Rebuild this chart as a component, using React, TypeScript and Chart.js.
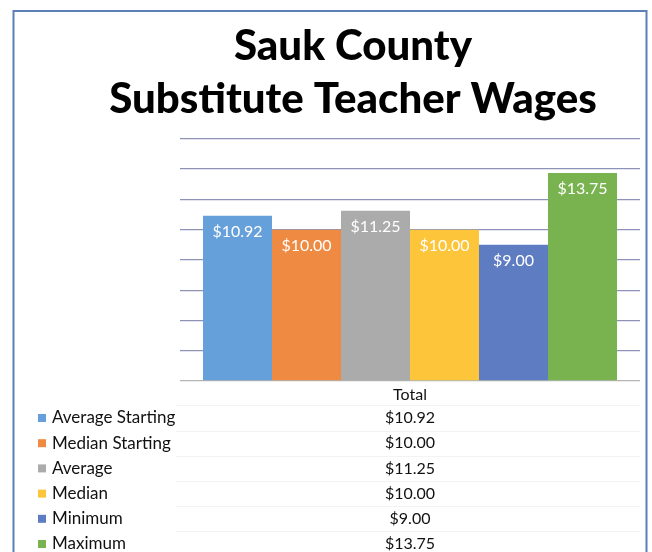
import React, { useEffect, useRef } from "react";
import { Chart, registerables } from "chart.js";

Chart.register(...registerables);

const titleLines = ["Sauk County", "Substitute Teacher Wages"];
const categories = ["Total"];
const seriesNames = ["Average Starting", "Median Starting", "Average", "Median", "Minimum", "Maximum"];
const seriesValues = [10.92, 10.0, 11.25, 10.0, 9.0, 13.75];
const seriesColors = ["#66a0da", "#ee8a42", "#ababab", "#fcc53a", "#5d7cc2", "#78b34f"];
const yMin = 0;
const yMax = 16;
const yStep = 2;

const FONT = "Lato, 'Open Sans', sans-serif";
const fmt = (v: number) => "$" + v.toFixed(2);

const framePlugin = {
  id: "frame",
  beforeDraw(chart: any) {
    const ctx = chart.ctx;
    ctx.save();
    ctx.fillStyle = "#ffffff";
    ctx.fillRect(0, 0, chart.width, chart.height);
    ctx.strokeStyle = "#5b7fb7";
    ctx.lineWidth = 2;
    ctx.strokeRect(13.5, 11, 633, chart.height + 20);
    ctx.restore();
  },
};

const barLabelPlugin = {
  id: "barLabels",
  afterDatasetsDraw(chart: any) {
    const ctx = chart.ctx;
    ctx.save();
    ctx.font = "16px " + FONT;
    ctx.fillStyle = "#ffffff";
    ctx.textAlign = "center";
    ctx.textBaseline = "middle";
    chart.data.datasets.forEach((ds: any, i: number) => {
      const meta = chart.getDatasetMeta(i);
      meta.data.forEach((el: any, j: number) => {
        ctx.fillText(fmt(ds.data[j]), el.x, el.y + 16);
      });
    });
    ctx.restore();
  },
};

const dataTablePlugin = {
  id: "dataTable",
  afterDraw(chart: any) {
    const ctx = chart.ctx;
    const area = chart.chartArea;
    const xScale = chart.scales.x;
    const rowH = 25.2;
    const firstY = area.bottom + 37;
    ctx.save();
    ctx.strokeStyle = "#f3f3f3";
    ctx.lineWidth = 1;
    chart.data.datasets.forEach((_ds: any, i: number) => {
      const y = Math.round(firstY + i * rowH - rowH / 2) + 0.5;
      ctx.beginPath();
      ctx.moveTo(176, y);
      ctx.lineTo(area.right, y);
      ctx.stroke();
    });
    ctx.textBaseline = "middle";
    chart.data.datasets.forEach((ds: any, i: number) => {
      const y = firstY + i * rowH;
      ctx.fillStyle = ds.backgroundColor;
      ctx.fillRect(38, y - 4, 8, 8);
      ctx.fillStyle = "#111111";
      ctx.textAlign = "left";
      ctx.font = "17px " + FONT;
      ctx.fillText(ds.label, 52, y);
      ctx.textAlign = "center";
      ctx.font = "16px " + FONT;
      categories.forEach((_c, j) => {
        ctx.fillText(fmt(ds.data[j]), xScale.getPixelForValue(j), y);
      });
    });
    ctx.restore();
  },
};

export default function App() {
  const ref = useRef<HTMLCanvasElement | null>(null);
  useEffect(() => {
    if (!ref.current) return;
    const chart = new Chart(ref.current, {
      type: "bar",
      data: {
        labels: categories,
        datasets: seriesNames.map((name, i) => ({
          label: name,
          data: [seriesValues[i]],
          backgroundColor: seriesColors[i],
          borderWidth: 0,
          categoryPercentage: 0.9,
          barPercentage: 1,
        })),
      },
      options: {
        responsive: false,
        animation: false,
        layout: { padding: { left: 66, right: 12, top: 8, bottom: 0 } },
        plugins: {
          legend: { display: false },
          tooltip: { enabled: false },
          title: {
            display: true,
            text: titleLines,
            color: "#000000",
            font: { family: FONT, size: 42, weight: "900", lineHeight: 1.26 },
            padding: { top: 12, bottom: 13 },
          },
        },
        scales: {
          x: {
            grid: { display: false, drawTicks: false },
            border: { display: false },
            ticks: { color: "#111111", font: { family: FONT, size: 16 }, padding: 4 },
            afterFit(scale: any) {
              scale.height = 171;
            },
          },
          y: {
            min: yMin,
            max: yMax,
            ticks: { display: false, stepSize: yStep },
            border: { display: false },
            grid: {
              drawTicks: false,
              color: (c: any) => (c.tick && c.tick.value === 0 ? "#b5b5b5" : "#8e92b8"),
              lineWidth: 1.3,
            },
            afterFit(scale: any) {
              scale.width = 114;
            },
          },
        },
      },
      plugins: [framePlugin, barLabelPlugin, dataTablePlugin],
    });
    return () => chart.destroy();
  }, []);
  return (
    <div style={{ position: "fixed", left: 0, top: 0, width: 652, height: 552, background: "#fff" }}>
      <canvas ref={ref} width={652} height={552} style={{ display: "block" }} />
    </div>
  );
}
